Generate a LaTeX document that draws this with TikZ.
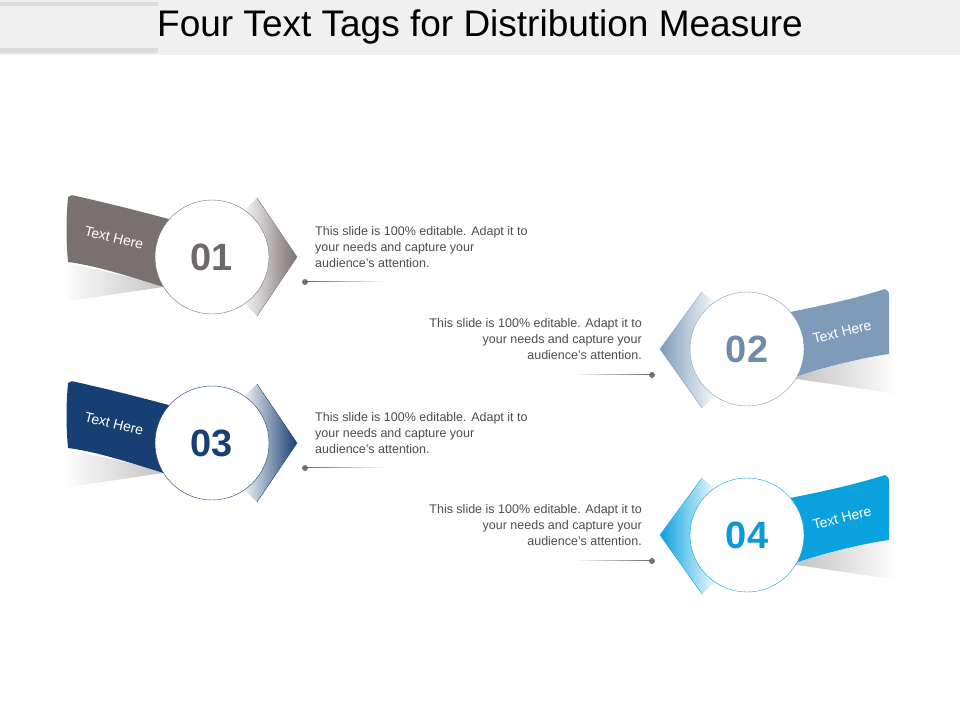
\documentclass[tikz,border=0pt]{standalone}
\usepackage{fontspec}
\setmainfont{Liberation Sans}
\definecolor{cA}{HTML}{78716F}
\definecolor{cB}{HTML}{7E9CBA}
\definecolor{cC}{HTML}{173F73}
\definecolor{cD}{HTML}{0AA2DE}
\definecolor{nA}{HTML}{6E6A69}
\definecolor{nB}{HTML}{6F8DAB}
\definecolor{nC}{HTML}{173F73}
\definecolor{nD}{HTML}{0A9AD6}
\tikzset{body/.style={font=\fontsize{12.5}{16}\selectfont,text=black!70,inner sep=0pt},
num/.style={font=\fontsize{38}{39}\selectfont\bfseries},
tag/.style={font=\fontsize{14}{15}\selectfont,text=white}}
\newcommand\leftTag[4]{% #1 y, #2 color, #3 number, #4 name
 \begin{scope}[yshift=-#1]
 \shade[left color=white,right color=black!25] (62,262)--(170,286)--(62,302)--cycle;
 \fill[#2] (68,197) .. controls (70,195) and (72,195) .. (76,196) .. controls (120,206) and (150,214) .. (180,222) -- (180,292) .. controls (140,280) and (100,266) .. (68,262) .. controls (66,240) and (66,220) .. cycle;
 \shade[left color=white,right color=#2] (257,198)--(297,257)--(257,316)--(240,300)--(240,214)--cycle;
 \draw[#2,thin] (257,198)--(297,257)--(257,316);
 \node[circle,fill=white,draw=#2,minimum size=114pt,inner sep=0pt] (c#4) at (212,257) {};
 \node[num,text=n#4] (n#4) at (212,257) {#3};
 \node[tag,rotate=-14] (t#4) at (114,238) {Text Here};
 \node[body,anchor=north west,align=left] (b#4) at (315,226) {This slide is 100\% editable. Adapt it to\\your needs and capture your\\audience's attention.};
 \node[circle,fill=black!55,inner sep=0pt,minimum size=6pt] (d#4) at (305,282) {};
 \coordinate (e#4) at (385,282);
 \shade[left color=black!60,right color=white] (d#4.center) ++(0,-0.8) rectangle (e#4|-0,281.2);
 \end{scope}}
\newcommand\rightTag[4]{%
 \begin{scope}[yshift=-#1]
 \shade[right color=white,left color=black!25] (898,348)--(790,378)--(898,394)--cycle;
 \fill[#2] (885,289) .. controls (888,290) and (889,292) .. (889,296) -- (889,354) .. controls (860,358) and (820,368) .. (780,382) -- (780,314) .. controls (820,306) and (850,300) .. cycle;
 \shade[right color=white,left color=#2] (702,292)--(660,349)--(702,408)--(719,392)--(719,306)--cycle;
 \draw[#2,thin] (702,292)--(660,349)--(702,408);
 \node[circle,fill=white,draw=#2,minimum size=114pt,inner sep=0pt] (c#4) at (747,349) {};
 \node[num,text=n#4] (n#4) at (747,349) {#3};
 \node[tag,rotate=14] (t#4) at (842,332) {Text Here};
 \node[body,anchor=north east,align=right] (b#4) at (642,318) {This slide is 100\% editable. Adapt it to\\your needs and capture your\\audience's attention.};
 \node[circle,fill=black!55,inner sep=0pt,minimum size=6pt] (d#4) at (652,375) {};
 \coordinate (e#4) at (575,375);
 \shade[right color=black!60,left color=white] (e#4) ++(0,-0.8) rectangle (d#4.center|-0,374.2);
 \end{scope}}
\begin{document}
\begin{tikzpicture}[x=1pt,y=-1pt]
\useasboundingbox (0,0) rectangle (960,720);
\fill[black!6] (0,0) rectangle (960,55);
\fill[black!14] (0,2) rectangle (158,6);
\fill[black!14] (0,48) rectangle (158,53);
\node[font=\fontsize{37}{38}\selectfont] (title) at (480,27) {Four Text Tags for Distribution Measure};
\leftTag{0pt}{cA}{01}{A}
\rightTag{0pt}{cB}{02}{B}
\leftTag{186pt}{cC}{03}{C}
\rightTag{186pt}{cD}{04}{D}
\end{tikzpicture}
\end{document}
